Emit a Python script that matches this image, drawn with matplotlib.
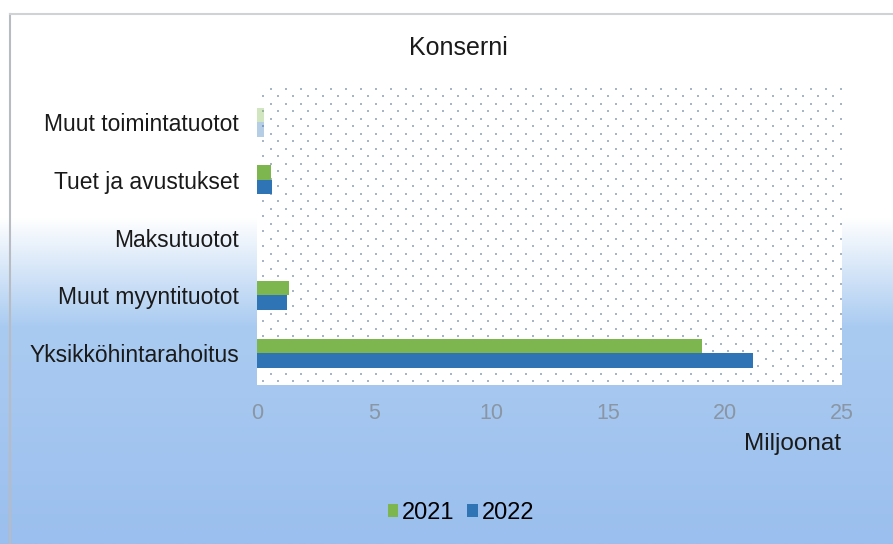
#!/usr/bin/env python

import numpy as np
import matplotlib
matplotlib.use('Agg')
import matplotlib.pyplot as plt
from matplotlib.patches import Patch, Rectangle
from matplotlib.colors import LinearSegmentedColormap

# data (millions of euros), categories listed bottom -> top
CATEGORIES = ['Yksikköhintarahoitus', 'Muut myyntituotot', 'Maksutuotot',
              'Tuet ja avustukset', 'Muut toimintatuotot']
VALUES_2021 = [19.0, 1.35, 0.0, 0.6, 0.3]
VALUES_2022 = [21.2, 1.3, 0.0, 0.65, 0.3]
SERIES      = ['2021', '2022']
X_TICKS     = [0, 5, 10, 15, 20, 25]

GREEN     = '#7db54f'
BLUE      = '#2f74b5'
FONT_SIZE = 16.5

AX_W, AX_H = 585, 297   # plot area size in pixels

plt.rcParams['font.family'] = ['Liberation Sans', 'DejaVu Sans']

figure = plt.figure(figsize=(8.93, 5.44), dpi=100)

# background gradient (white at top, light blue below)
bg = figure.add_axes([0, 0, 1, 1], zorder=-10)
bgCmap = LinearSegmentedColormap.from_list(
    'bg', [(0.0, '#ffffff'), (0.40, '#ffffff'), (0.60, '#aacbf1'), (1.0, '#9bbfee')])
bg.imshow(np.linspace(0, 1, 256).reshape(-1, 1), aspect='auto', cmap=bgCmap,
          extent=[0, 1, 0, 1], origin='upper')
bg.plot([0.011, 0.011], [0.0, 0.975], color='#b8bcc2', lw=1.5)
bg.plot([0.011, 1.0], [0.975, 0.975], color='#d0d2d6', lw=1.5)
bg.set_xlim(0, 1)
bg.set_ylim(0, 1)
bg.axis('off')

ax = figure.add_axes([257 / 893, 1 - 385 / 544, AX_W / 893, AX_H / 544])
ax.patch.set_visible(False)

# white plot area with dotted pattern (staggered dot grid)
ax.add_patch(Rectangle((0, 0), 1, 1, transform=ax.transAxes, facecolor='white',
                       lw=0, zorder=0))
dotX, dotY = [], []
for row, yPix in enumerate(np.arange(4, AX_H, 7.5)):
    xs = np.arange(6 + (row % 2) * 7.5, AX_W, 15)
    dotX.extend(xs / AX_W)
    dotY.extend([yPix / AX_H] * len(xs))
ax.scatter(dotX, dotY, s=1.5, color='#a8b5c6', linewidths=0, marker='s',
           transform=ax.transAxes, zorder=1)

pos    = np.arange(len(CATEGORIES))
height = 0.25

bars21 = ax.barh(pos + height / 2, VALUES_2021, height=height, color=GREEN, label=SERIES[0], zorder=2)
bars22 = ax.barh(pos - height / 2, VALUES_2022, height=height, color=BLUE, label=SERIES[1], zorder=2)
bars21[-1].set_alpha(0.35)
bars22[-1].set_alpha(0.35)

ax.set_xlim(0, 25)
ax.set_ylim(-0.55, len(CATEGORIES) - 0.41)
ax.set_xticks(X_TICKS)
ax.set_yticks(pos)
ax.set_yticklabels(CATEGORIES, fontsize=FONT_SIZE, color='#1a1a1a')
ax.tick_params(axis='x', length=0, pad=13, labelsize=15.5, labelcolor='#8a96a4')
ax.tick_params(axis='y', length=0, pad=13)
for spine in ax.spines.values():
    spine.set_visible(False)

figure.text(0.513, 0.912, 'Konserni', ha='center', va='center', fontsize=18, color='#1a1a1a')
figure.text(0.942, 0.184, 'Miljoonat', ha='right', va='center', fontsize=17.5, color='#1a1a1a')

handles = [Patch(facecolor=GREEN, label=SERIES[0]), Patch(facecolor=BLUE, label=SERIES[1])]
figure.legend(handles=handles, loc='center', bbox_to_anchor=(0.516, 0.057), ncol=2,
              frameon=False, fontsize=17, handlelength=0.45, handleheight=0.45,
              handletextpad=0.15, columnspacing=0.55)

figure.savefig('out.png', dpi=100)
plt.close(figure)
